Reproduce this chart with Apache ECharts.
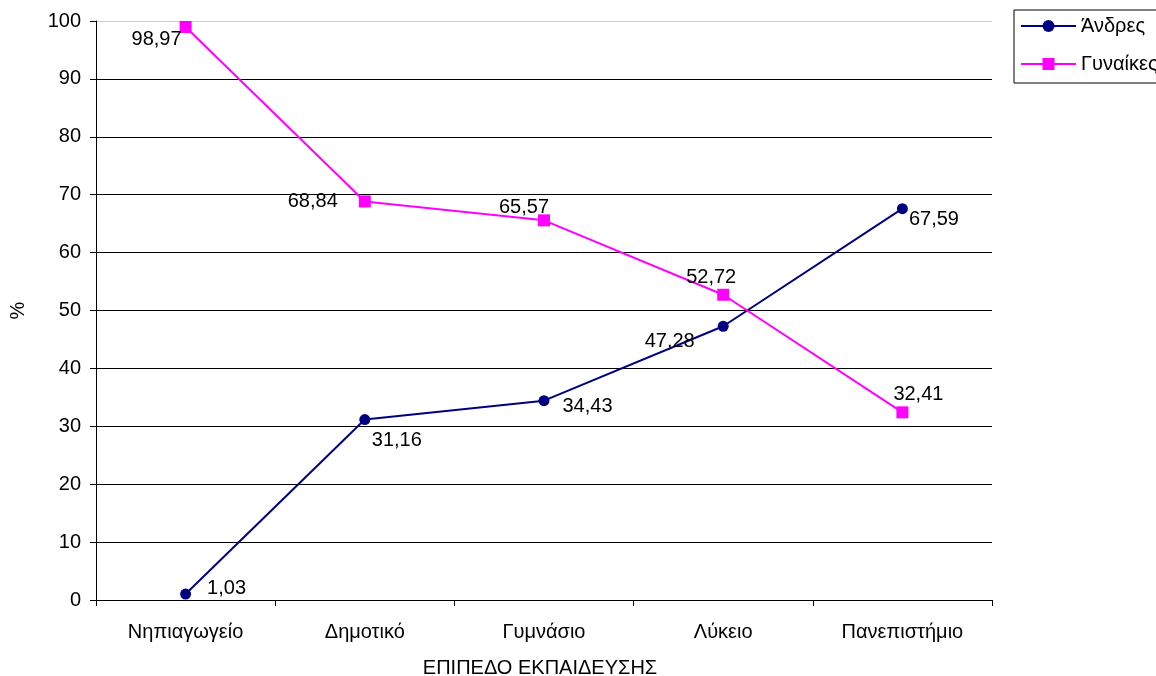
<!DOCTYPE html>
<html><head><meta charset="utf-8">
<script src="https://cdn.jsdelivr.net/npm/echarts@6/dist/echarts.min.js"></script>
<style>html,body{margin:0;padding:0;background:#fff}#c{width:1156px;height:676px}</style>
</head><body><div id="c"></div>
<script>
const categories = ['Νηπιαγωγείο','Δημοτικό','Γυμνάσιο','Λύκειο','Πανεπιστήμιο'];
const men = [1.03, 31.16, 34.43, 47.28, 67.59];
const women = [98.97, 68.84, 65.57, 52.72, 32.41];
const seriesNames = ['Άνδρες','Γυναίκες'];
const yTicks = [0,10,20,30,40,50,60,70,80,90,100];

const font = 'Liberation Sans, Arial, sans-serif';
const FS = 20;
const fmt = v => v.toFixed(2).replace('.', ',');

const menLabel = [
  {position:'right', offset:[11,-6]},
  {position:'bottom', offset:[32,0]},
  {position:'right', offset:[8,6]},
  {position:'left', offset:[-18,15]},
  {position:'right', offset:[-4,11]}
];
const womenLabel = [
  {position:'left', offset:[7,13]},
  {position:'left', offset:[-16,0]},
  {position:'top', offset:[-20,8]},
  {position:'top', offset:[-12,4]},
  {position:'top', offset:[16,3]}
];

const chart = echarts.init(document.getElementById('c'));
const gridColors = yTicks.map(v => v === 100 ? '#d0d0d0' : '#000');
chart.setOption({
  animation:false,
  textStyle:{fontFamily:font},
  grid:{left:96, right:164, top:21, bottom:76, outerBoundsMode:'none', containLabel:false},
  legend:{
    left:1014, top:10, orient:'vertical',
    data:seriesNames,
    itemWidth:55, itemHeight:15, itemGap:18,
    borderColor:'#000', borderWidth:1, padding:[6,20,9,6],
    textStyle:{fontSize:FS, color:'#000', fontFamily:font}
  },
  xAxis:{
    type:'category', data:categories, boundaryGap:true,
    name:'ΕΠΙΠΕΔΟ ΕΚΠΑΙΔΕΥΣΗΣ', nameLocation:'middle', nameGap:58,
    nameTextStyle:{fontSize:FS, color:'#000', padding:[0,8,0,0]},
    axisLine:{lineStyle:{color:'#000'}},
    axisTick:{show:true, length:6, lineStyle:{color:'#000'}},
    axisLabel:{fontSize:FS, color:'#000', margin:22}
  },
  yAxis:{
    type:'value', min:0, max:100, interval:10,
    name:'%', nameLocation:'middle', nameGap:68, nameRotate:90,
    nameTextStyle:{fontSize:FS, color:'#000'},
    axisLine:{show:true, lineStyle:{color:'#000'}},
    axisTick:{show:true, length:6, lineStyle:{color:'#000'}},
    axisLabel:{fontSize:FS, color:'#000', margin:15},
    splitLine:{show:true, lineStyle:{color:gridColors, width:1}}
  },
  series:[
    {
      name:seriesNames[0], type:'line',
      data:men.map((v,i)=>({value:v, label:menLabel[i]})),
      symbol:'circle', symbolSize:11,
      lineStyle:{color:'#000080', width:2},
      itemStyle:{color:'#000080'},
      label:{show:true, fontSize:FS, color:'#000', distance:5, formatter:p=>fmt(p.value)}
    },
    {
      name:seriesNames[1], type:'line',
      data:women.map((v,i)=>({value:v, label:womenLabel[i]})),
      symbol:'rect', symbolSize:12,
      lineStyle:{color:'#FF00FF', width:2},
      itemStyle:{color:'#FF00FF'},
      label:{show:true, fontSize:FS, color:'#000', distance:5, formatter:p=>fmt(p.value)}
    }
  ]
});
</script></body></html>
